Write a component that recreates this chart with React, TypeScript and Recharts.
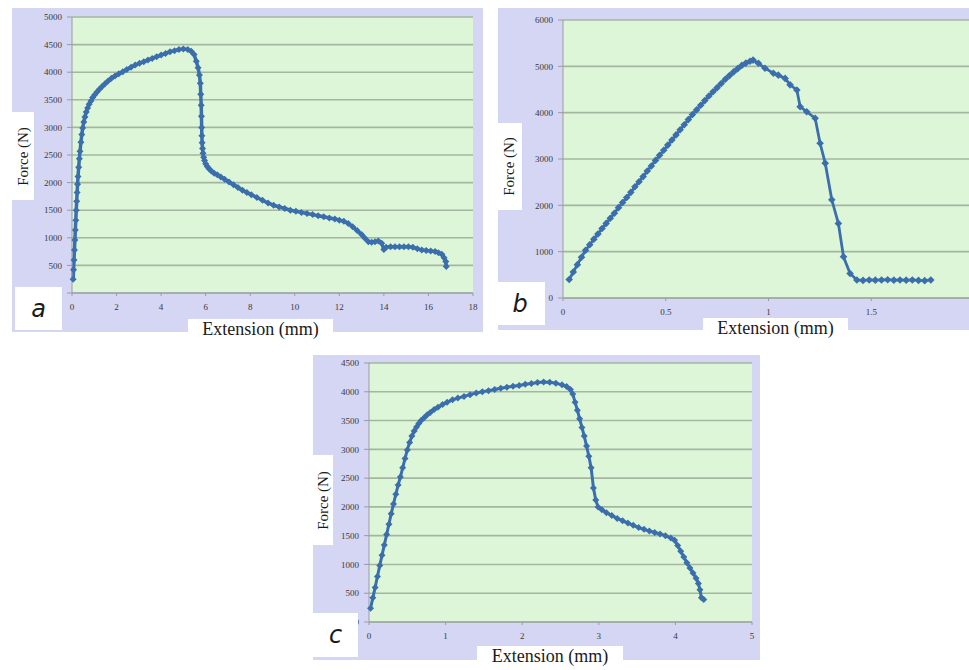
import { LineChart, Line, XAxis, YAxis, CartesianGrid } from "recharts";

// panel a
const extA = [
  0.05, 0.07, 0.09, 0.11, 0.13, 0.15, 0.17, 0.19, 0.21, 0.23, 0.25, 0.27, 0.3, 0.33, 0.36, 0.4, 0.44, 0.48, 0.53, 0.58,
  0.64, 0.7, 0.77, 0.85, 0.93, 1.02, 1.12, 1.23, 1.35, 1.48, 1.62, 1.77, 1.93, 2.1, 2.28, 2.46, 2.65, 2.84, 3.03, 3.22,
  3.41, 3.6, 3.8, 4.0, 4.2, 4.4, 4.6, 4.8, 5.0, 5.2, 5.35, 5.48, 5.58, 5.66, 5.72, 5.76, 5.78, 5.8, 5.81, 5.82,
  5.83, 5.84, 5.86, 5.88, 5.91, 5.95, 6.0, 6.07, 6.15, 6.25, 6.38, 6.52, 6.68, 6.85, 7.05, 7.25, 7.45, 7.65, 7.85, 8.05,
  8.3, 8.55, 8.8, 9.05, 9.3, 9.55, 9.8, 10.05, 10.3, 10.55, 10.8, 11.05, 11.3, 11.55, 11.8, 12.0, 12.2, 12.4, 12.6, 12.8,
  13.0, 13.15, 13.3, 13.45, 13.6, 13.75, 13.9, 14.0, 14.1, 14.3, 14.5, 14.7, 14.9, 15.1, 15.3, 15.5, 15.7, 15.9, 16.1, 16.3,
  16.45, 16.6, 16.7, 16.78, 16.8,
];
const forceA = [
  250, 420, 600, 780, 960, 1140, 1320, 1500, 1660, 1820, 1970, 2110, 2280, 2430, 2570, 2730, 2870, 2990, 3100, 3190,
  3280, 3350, 3420, 3480, 3540, 3590, 3640, 3690, 3740, 3790, 3840, 3890, 3930, 3970, 4010, 4050, 4090, 4130, 4160, 4190,
  4220, 4250, 4280, 4310, 4340, 4370, 4390, 4410, 4420, 4410, 4380, 4320, 4200, 4080, 3950, 3800, 3600, 3400, 3200, 3000,
  2850, 2720, 2620, 2530, 2460, 2400, 2340, 2290, 2250, 2210, 2170, 2140, 2100, 2060, 2010, 1960, 1910, 1860, 1820, 1780,
  1730, 1680, 1630, 1590, 1560, 1530, 1500, 1480, 1460, 1440, 1420, 1400, 1380, 1360, 1340, 1320, 1300, 1260, 1200, 1130,
  1060, 990, 930, 920, 930, 940, 900, 790, 830, 840, 840, 840, 840, 840, 830, 800, 780, 770, 760, 750,
  730, 700, 640, 570, 480,
];
const xTicksA = [0, 2, 4, 6, 8, 10, 12, 14, 16, 18];
const yTicksA = [0, 500, 1000, 1500, 2000, 2500, 3000, 3500, 4000, 4500, 5000];

// panel b
const extB = [
  0.03, 0.05, 0.07, 0.09, 0.11, 0.13, 0.15, 0.17, 0.19, 0.21, 0.23, 0.25, 0.27, 0.29, 0.31, 0.33, 0.35, 0.37, 0.39, 0.41,
  0.43, 0.45, 0.47, 0.49, 0.51, 0.53, 0.55, 0.57, 0.59, 0.61, 0.63, 0.65, 0.67, 0.69, 0.71, 0.73, 0.75, 0.77, 0.79, 0.81,
  0.83, 0.85, 0.87, 0.89, 0.91, 0.925, 0.951, 0.983, 1.024, 1.048, 1.081, 1.105, 1.138, 1.154, 1.186, 1.227, 1.251, 1.276, 1.308, 1.34,
  1.365, 1.397, 1.43, 1.46, 1.49, 1.52, 1.55, 1.58, 1.61, 1.64, 1.67, 1.7, 1.73, 1.76, 1.79,
];
const forceB = [
  400, 560, 720, 880, 1030, 1150, 1270, 1380, 1500, 1610, 1720, 1830, 1950, 2060, 2170, 2280, 2400, 2510, 2620, 2740,
  2850, 2970, 3080, 3190, 3300, 3410, 3520, 3630, 3740, 3850, 3960, 4060, 4160, 4260, 4360, 4450, 4540, 4630, 4720, 4800,
  4880, 4950, 5020, 5070, 5110, 5135, 5065, 4960, 4850, 4810, 4740, 4600, 4490, 4130, 4020, 3880, 3340, 2910, 2120, 1610,
  890, 530, 390, 380, 390, 385, 390, 395, 385, 390, 385, 390, 380, 375, 390,
];
// the 2.0 end of the axis runs past the picture's right edge
const xDomainB = [0, 2];
const xTicksB = [0, 0.5, 1, 1.5];
const yTicksB = [0, 1000, 2000, 3000, 4000, 5000, 6000];

// panel c
const extC = [
  0.02, 0.05, 0.08, 0.11, 0.14, 0.17, 0.2, 0.23, 0.26, 0.29, 0.32, 0.35, 0.38, 0.41, 0.44, 0.47, 0.5, 0.53, 0.56, 0.59,
  0.62, 0.65, 0.68, 0.72, 0.76, 0.8, 0.85, 0.9, 0.96, 1.02, 1.09, 1.16, 1.24, 1.32, 1.4, 1.48, 1.56, 1.64, 1.72, 1.8,
  1.88, 1.96, 2.04, 2.12, 2.2, 2.28, 2.36, 2.44, 2.52, 2.58, 2.63, 2.66, 2.69, 2.72, 2.75, 2.78, 2.81, 2.84, 2.87, 2.9,
  2.93, 2.96, 2.99, 3.04, 3.1, 3.17, 3.24, 3.31, 3.38, 3.45, 3.52, 3.59, 3.66, 3.73, 3.8, 3.87, 3.94, 3.99, 4.03, 4.07,
  4.11, 4.15, 4.19, 4.23, 4.27, 4.3, 4.32, 4.34, 4.37,
];
const forceC = [
  240, 420, 600, 790, 980, 1160, 1340, 1520, 1700, 1880, 2050, 2220, 2380, 2520, 2680, 2840, 2990, 3120, 3230, 3320,
  3390, 3450, 3500, 3550, 3600, 3640, 3690, 3730, 3780, 3820, 3860, 3890, 3920, 3950, 3980, 4000, 4020, 4040, 4060, 4080,
  4095, 4110, 4130, 4145, 4160, 4170, 4165, 4150, 4120, 4090, 4040, 3960, 3820, 3680, 3530, 3380, 3230, 3060, 2880, 2680,
  2330, 2120, 2000, 1950, 1900, 1850, 1800, 1760, 1720, 1680, 1640, 1610, 1580, 1555, 1530, 1500, 1460, 1420, 1330, 1230,
  1130, 1030, 940, 850, 760, 670, 560, 420, 390,
];
const xTicksC = [0, 1, 2, 3, 4, 5];
const yTicksC = [0, 500, 1000, 1500, 2000, 2500, 3000, 3500, 4000, 4500];

const LAVENDER = "#d5d5f4";
const PLOT = "#ddf6d8";
const GRID = "#a4b6a0";
const BLUE = "#3b6ead";
const SERIF = "'Liberation Serif', 'Times New Roman', serif";

const diamond = (r: number) => (p: any) => {
  const { cx, cy, index } = p;
  if (cx == null || cy == null) return <g key={`d${index}`} />;
  return (
    <path
      key={`d${index}`}
      d={`M${cx},${cy - r}L${cx + r},${cy}L${cx},${cy + r}L${cx - r},${cy}Z`}
      fill={BLUE}
    />
  );
};

type PanelProps = {
  left: number;
  top: number;
  width: number;
  height: number;
  margin: { top: number; right: number; left: number; bottom: number };
  yWidth: number;
  xHeight: number;
  ext: number[];
  force: number[];
  xDomain: number[];
  xTicks: number[];
  yTicks: number[];
  r: number;
  sw: number;
};

const Panel = (p: PanelProps) => {
  const data = p.ext.map((x, i) => ({ x, y: p.force[i] }));
  const tick = { fontSize: 9, fill: "#3a3a3a", fontFamily: SERIF };
  return (
    <div style={{ position: "absolute", left: p.left, top: p.top, width: p.width, height: p.height, background: LAVENDER }}>
      <LineChart width={p.width} height={p.height} data={data} margin={p.margin}>
        <CartesianGrid vertical={false} fill={PLOT} stroke={GRID} strokeWidth={1.6} />
        <XAxis
          type="number"
          dataKey="x"
          domain={p.xDomain}
          ticks={p.xTicks}
          height={p.xHeight}
          tick={tick}
          tickSize={3}
          tickMargin={8}
          stroke="#9a9aa8"
        />
        <YAxis
          type="number"
          domain={[p.yTicks[0], p.yTicks[p.yTicks.length - 1]]}
          ticks={p.yTicks}
          width={p.yWidth}
          tick={tick}
          tickSize={5}
          tickMargin={5}
          stroke="#9a9aa8"
        />
        <Line
          type="linear"
          dataKey="y"
          stroke={BLUE}
          strokeWidth={p.sw}
          dot={diamond(p.r)}
          isAnimationActive={false}
        />
      </LineChart>
    </div>
  );
};

const Box = ({ left, top, width, height, children, style }: any) => (
  <div
    style={{
      position: "absolute",
      left,
      top,
      width,
      height,
      background: "#ffffff",
      display: "flex",
      alignItems: "center",
      justifyContent: "center",
      fontFamily: SERIF,
      color: "#1a1a1a",
      overflow: "hidden",
      ...style,
    }}
  >
    {children}
  </div>
);

const YTitle = ({ left, top, width, height }: any) => (
  <Box left={left} top={top} width={width} height={height}>
    <span style={{ transform: "rotate(-90deg)", whiteSpace: "nowrap", fontSize: 15 }}>Force (N)</span>
  </Box>
);

const XTitle = ({ left, top, width, height }: any) => (
  <Box left={left} top={top} width={width} height={height} style={{ alignItems: "flex-start" }}>
    <span style={{ whiteSpace: "nowrap", fontSize: 18, lineHeight: "21px", fontFamily: SERIF }}>Extension (mm)</span>
  </Box>
);

const Letter = ({ left, top, width, height, ch }: any) => (
  <Box left={left} top={top} width={width} height={height}>
    <span style={{ fontFamily: "'DejaVu Sans', sans-serif", fontStyle: "italic", fontSize: 24 }}>{ch}</span>
  </Box>
);

export default function App() {
  return (
    <div style={{ position: "absolute", left: 0, top: 0, width: 969, height: 670, overflow: "hidden", background: "#fff" }}>
      <Panel
        left={12}
        top={8}
        width={471}
        height={324}
        margin={{ top: 9, right: 10, left: 0, bottom: 0 }}
        yWidth={60}
        xHeight={39}
        ext={extA}
        force={forceA}
        xDomain={[0, 18]}
        xTicks={xTicksA}
        yTicks={yTicksA}
        r={3.5}
        sw={3.5}
      />
      <YTitle left={12} top={112} width={22} height={88} />
      <Letter left={15} top={287} width={47} height={43} ch="a" />
      <XTitle left={188} top={319} width={145} height={21} />

      <Panel
        left={498}
        top={8}
        width={486}
        height={322}
        margin={{ top: 12, right: 10, left: 0, bottom: 0 }}
        yWidth={65}
        xHeight={32}
        ext={extB}
        force={forceB}
        xDomain={xDomainB}
        xTicks={xTicksB}
        yTicks={yTicksB}
        r={3.8}
        sw={2.8}
      />
      <YTitle left={497} top={123} width={25} height={87} />
      <Letter left={495} top={282} width={50} height={43} ch="b" />
      <XTitle left={703} top={318} width={145} height={22} />

      <Panel
        left={313}
        top={355}
        width={447}
        height={305}
        margin={{ top: 8, right: 8, left: 0, bottom: 0 }}
        yWidth={56}
        xHeight={38}
        ext={extC}
        force={forceC}
        xDomain={[0, 5]}
        xTicks={xTicksC}
        yTicks={yTicksC}
        r={3.5}
        sw={3}
      />
      <YTitle left={313} top={455} width={20} height={90} />
      <Letter left={313} top={613} width={45} height={44} ch="c" />
      <XTitle left={477} top={646} width={146} height={24} />
    </div>
  );
}
